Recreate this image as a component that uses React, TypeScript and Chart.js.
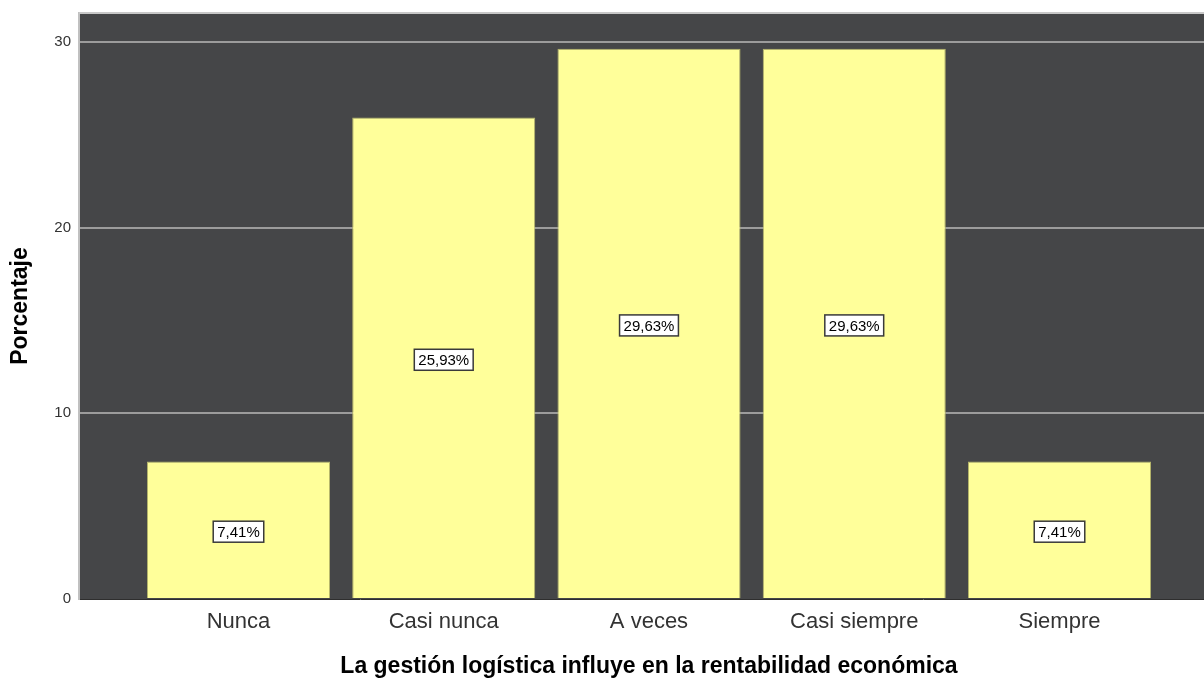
import React, { useEffect, useRef } from "react";
import { Chart, registerables } from "chart.js";

Chart.register(...registerables);

const categories = ["Nunca", "Casi nunca", "A veces", "Casi siempre", "Siempre"];
const percentages = [7.41, 25.93, 29.63, 29.63, 7.41];
const valueLabels = ["7,41%", "25,93%", "29,63%", "29,63%", "7,41%"];
const yTicks = [0, 10, 20, 30];
const xTitle = "La gestión logística influye en la rentabilidad económica";
const yTitle = "Porcentaje";

const FONT = "'Liberation Sans', Arial, sans-serif";

const decorPlugin = {
  id: "decor",
  beforeDraw(chart: any) {
    const { ctx, chartArea } = chart;
    ctx.save();
    ctx.fillStyle = "#454648";
    ctx.fillRect(chartArea.left, chartArea.top, chartArea.right - chartArea.left, chartArea.bottom - chartArea.top);
    ctx.restore();
  },
  afterDatasetsDraw(chart: any) {
    const { ctx } = chart;
    const meta = chart.getDatasetMeta(0);
    ctx.save();
    ctx.font = `15px ${FONT}`;
    ctx.textAlign = "center";
    ctx.textBaseline = "middle";
    meta.data.forEach((bar: any, i: number) => {
      const text = valueLabels[i];
      const cx = bar.x;
      const cy = (bar.y + bar.base) / 2 + 2;
      const w = ctx.measureText(text).width + 8;
      const h = 21;
      ctx.fillStyle = "#ffffff";
      ctx.fillRect(cx - w / 2, cy - h / 2, w, h);
      ctx.strokeStyle = "#3a3a3a";
      ctx.lineWidth = 1.5;
      ctx.strokeRect(cx - w / 2, cy - h / 2, w, h);
      ctx.fillStyle = "#000000";
      ctx.fillText(text, cx, cy + 1);
    });
    ctx.restore();
  },
  afterDraw(chart: any) {
    const { ctx, chartArea, scales } = chart;
    ctx.save();
    ctx.strokeStyle = "#c8c8c8";
    ctx.lineWidth = 2;
    ctx.beginPath();
    ctx.moveTo(chartArea.left, chartArea.top);
    ctx.lineTo(chartArea.right, chartArea.top);
    ctx.stroke();
    ctx.fillStyle = "#000000";
    ctx.font = `bold 23px ${FONT}`;
    ctx.textAlign = "center";
    ctx.textBaseline = "middle";
    ctx.fillText(xTitle, scales.x.getPixelForValue(2), 667);
    ctx.translate(21, (chartArea.top + chartArea.bottom) / 2);
    ctx.rotate(-Math.PI / 2);
    ctx.fillText(yTitle, 0, 0);
    ctx.restore();
  },
};

export default function App() {
  const canvasRef = useRef<HTMLCanvasElement>(null);

  useEffect(() => {
    if (!canvasRef.current) return;
    const chart = new Chart(canvasRef.current, {
      type: "bar",
      data: {
        datasets: [
          {
            data: percentages.map((v, i) => ({ x: i, y: v })),
            backgroundColor: "#ffff9a",
            borderColor: "#b5b56a",
            borderWidth: 1,
            barPercentage: 0.892,
            categoryPercentage: 1,
          },
        ],
      },
      options: {
        animation: false,
        responsive: false,
        devicePixelRatio: 1,
        layout: { padding: { top: 13, left: 0, right: 0, bottom: 0 } },
        plugins: { legend: { display: false }, tooltip: { enabled: false } },
        scales: {
          x: {
            type: "linear",
            offset: false,
            min: -0.777,
            max: 4.704,
            afterBuildTicks: (scale: any) => {
              scale.ticks = categories.map((_, i) => ({ value: i }));
            },
            afterFit: (scale: any) => {
              scale.height = 82;
              scale.paddingLeft = 0;
              scale.paddingRight = 0;
            },
            grid: { display: false, drawTicks: false, offset: false },
            border: { display: true, color: "#2e2e2e", width: 1 },
            ticks: {
              callback: (v: any) => categories[v] ?? "",
              font: { family: FONT, size: 22 },
              color: "#333333",
              padding: 10,
              maxRotation: 0,
              autoSkip: false,
            },
          },
          y: {
            min: 0,
            max: 31.56,
            afterBuildTicks: (scale: any) => {
              scale.ticks = yTicks.map((v) => ({ value: v }));
            },
            afterFit: (scale: any) => {
              scale.width = 79;
              scale.paddingTop = 0;
              scale.paddingBottom = 0;
            },
            grid: {
              drawTicks: false,
              color: (c: any) => (c.tick && c.tick.value === 0 ? "rgba(0,0,0,0)" : "#9c9c9c"),
              lineWidth: 2,
            },
            border: { display: true, color: "#c0c0c0", width: 2 },
            ticks: {
              font: { family: FONT, size: 15 },
              color: "#333333",
              padding: 8,
            },
          },
        },
      },
      plugins: [decorPlugin],
    } as any);
    return () => chart.destroy();
  }, []);

  return (
    <div style={{ position: "fixed", left: 0, top: 0, width: 1204, height: 681, background: "#ffffff" }}>
      <canvas ref={canvasRef} width={1204} height={681} />
    </div>
  );
}
